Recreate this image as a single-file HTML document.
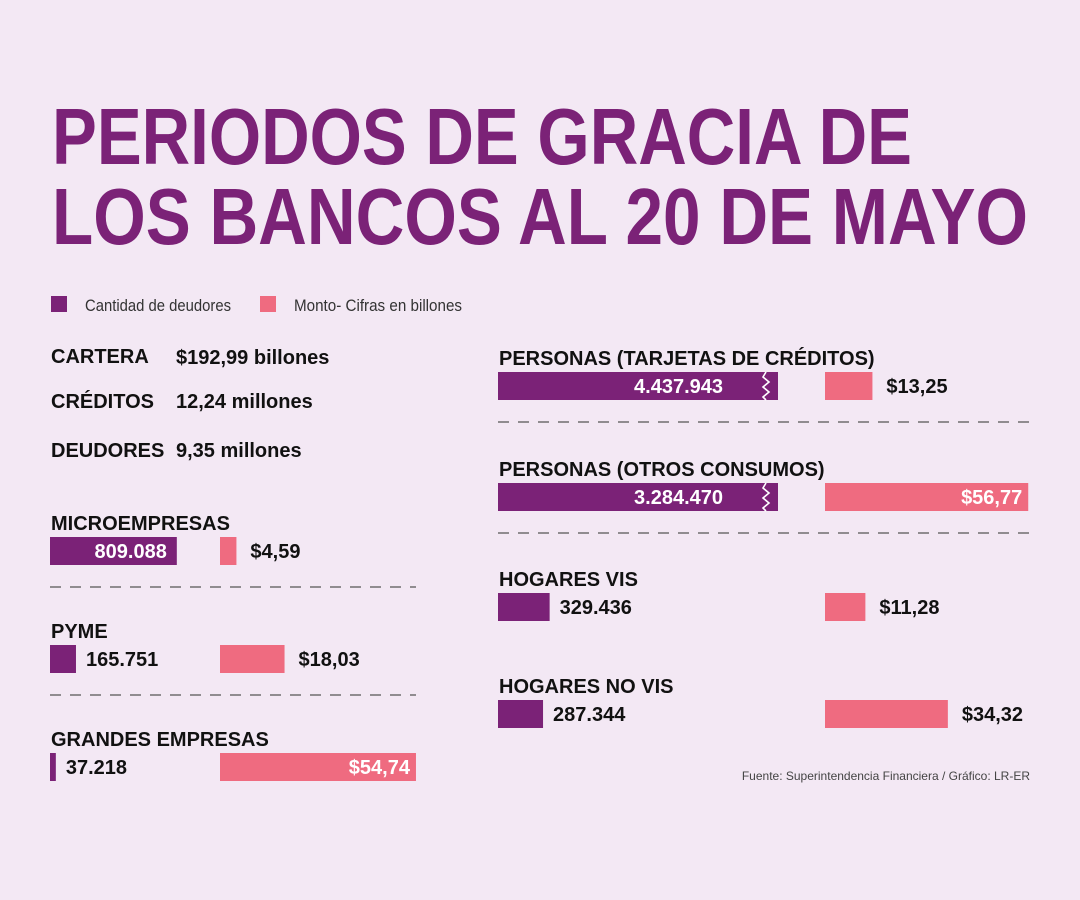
<!DOCTYPE html>
<html><head><meta charset="utf-8"><style>
html,body{margin:0;padding:0;background:#f3e8f4;}
svg{display:block;font-family:"Liberation Sans",sans-serif;}
</style></head><body>
<svg id="chart" width="1080" height="900" viewBox="0 0 1080 900">
<rect width="1080" height="900" fill="#f3e8f4"/>
<text x="52" y="164" font-size="80" font-weight="bold" fill="#7b2277" textLength="860" lengthAdjust="spacingAndGlyphs">PERIODOS DE GRACIA DE</text>
<text x="52" y="244" font-size="80" font-weight="bold" fill="#7b2277" textLength="976" lengthAdjust="spacingAndGlyphs">LOS BANCOS AL 20 DE MAYO</text>
<g>
<rect x="51" y="296" width="16" height="16" fill="#7b2277"/>
<text x="85" y="311" font-size="17" fill="#333" textLength="146" lengthAdjust="spacingAndGlyphs">Cantidad de deudores</text>
<rect x="260" y="296" width="16" height="16" fill="#ef6b80"/>
<text x="294" y="311" font-size="17" fill="#333" textLength="168" lengthAdjust="spacingAndGlyphs">Monto- Cifras en billones</text>
</g>
<g font-weight="bold" font-size="20" fill="#111">
<text x="51" y="363">CARTERA</text>
<text x="176" y="364">$192,99 billones</text>
<text x="51" y="408">CRÉDITOS</text>
<text x="176" y="408">12,24 millones</text>
<text x="51" y="457">DEUDORES</text>
<text x="176" y="457">9,35 millones</text>
</g>
<text x="1030" y="780" text-anchor="end" font-size="12" fill="#444">Fuente: Superintendencia Financiera / Gráfico: LR-ER</text>
<g id="bars"></g>
</svg>
<script>
const categories = ["MICROEMPRESAS","PYME","GRANDES EMPRESAS","PERSONAS (TARJETAS DE CRÉDITOS)","PERSONAS (OTROS CONSUMOS)","HOGARES VIS","HOGARES NO VIS"];
const debtors = [809088,165751,37218,4437943,3284470,329436,287344];
const amounts = [4.59,18.03,54.74,13.25,56.77,11.28,34.32];
const debtorLabels = ["809.088","165.751","37.218","4.437.943","3.284.470","329.436","287.344"];
const amountLabels = ["$4,59","$18,03","$54,74","$13,25","$56,77","$11,28","$34,32"];

const NS = "http://www.w3.org/2000/svg";
const g = document.getElementById("bars");
const layout = [
 {col:0,row:0},{col:0,row:1},{col:0,row:2},
 {col:1,row:0},{col:1,row:1},{col:1,row:2},{col:1,row:3}
];
function xDebt(v){ return v/6380; }
function xAmt(v){ return v*3.58; }
const cols = [{px:50,ax:220,dashEnd:416,top:[510,618,726],maxP:130},
              {px:498,ax:825,dashEnd:1030,top:[345,456,566,673],maxP:280}];
function mk(tag, attrs){ const e=document.createElementNS(NS,tag); for(const k in attrs) e.setAttribute(k,attrs[k]); g.appendChild(e); return e; }

categories.forEach((cat,i)=>{
  const L = layout[i], C = cols[L.col];
  const top = C.top[L.row];
  const by = top + 27;
  const t = mk("text",{x:C.px+1,y:top+20,"font-size":"20","font-weight":"bold",fill:"#111"});
  
  
  t.textContent = cat;
  let w = xDebt(debtors[i]); let broken = false;
  if (L.col===1 && w > C.maxP) { w = C.maxP; broken = true; }
  const r = mk("rect",{x:C.px,y:by,width:w,height:28,fill:"#7b2277"});
  
  
  if (broken) {
    const zx = C.px + w - 12;
    const z = mk("path",{d:`M${zx} ${by} l-3 5 l6 5 l-6 5 l6 5 l-6 5 l3 3`,stroke:"#fff","stroke-width":"1.6",fill:"none"});
    
    
  }
  const inside = w > 100;
  const dl = mk("text",{x: inside ? (broken ? C.px+w-55 : C.px+w-10) : C.px+w+10, y:by+21,"font-size":"20","font-weight":"bold",fill: inside?"#fff":"#111","text-anchor": inside?"end":"start"});
  
  
  dl.textContent = debtorLabels[i];
  const aw = xAmt(amounts[i]);
  const ar = mk("rect",{x:C.ax,y:by,width:aw,height:28,fill:"#ef6b80"});
  
  
  const ain = aw > 150;
  const al = mk("text",{x: ain ? C.ax+aw-6 : C.ax+aw+14, y:by+21,"font-size":"20","font-weight":"bold",fill: ain?"#fff":"#111","text-anchor": ain?"end":"start"});
  
  
  al.textContent = amountLabels[i];
  const last = (L.col===0 && L.row===2) || (L.col===1 && L.row>=2);
  if (!last) {
    const d = mk("line",{x1:C.px,x2:C.dashEnd,y1:by+50,y2:by+50,stroke:"#555","stroke-width":"1.3","stroke-dasharray":"11 9"});
    
    
  }
});
</script>
</body></html>
